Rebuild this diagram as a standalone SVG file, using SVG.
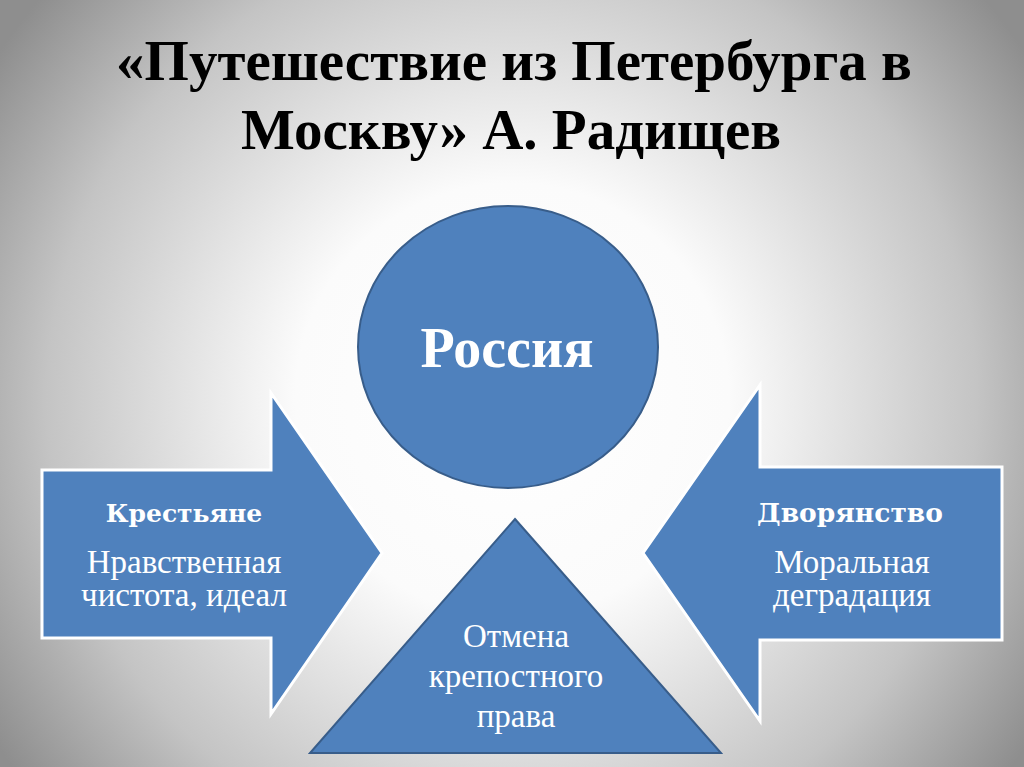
<svg xmlns="http://www.w3.org/2000/svg" width="1024" height="767" viewBox="0 0 1024 767">
<defs>
<radialGradient id="bg" cx="512" cy="400" r="620" gradientUnits="userSpaceOnUse">
<stop offset="0" stop-color="#ffffff"/>
<stop offset="0.35" stop-color="#fbfbfb"/>
<stop offset="0.75" stop-color="#c4c4c4"/>
<stop offset="1" stop-color="#8e8e8e"/>
</radialGradient>
<style>
.title{font-family:"Liberation Serif","Times New Roman",serif;font-weight:bold;font-size:57px;fill:#000;text-anchor:middle}
.arrow{fill:#4f81bd;stroke:#ffffff;stroke-width:3;stroke-linejoin:miter}
.shape{fill:#4f81bd;stroke:#385d8a;stroke-width:2}
.hd{font-family:"DejaVu Serif","Liberation Serif",serif;font-weight:bold;font-size:25px;fill:#fff;text-anchor:middle}
.tx{font-family:"Liberation Serif","Times New Roman",serif;font-size:33px;fill:#fff;text-anchor:middle}
.big{font-family:"Liberation Serif","Times New Roman",serif;font-weight:bold;font-size:56px;fill:#fff;text-anchor:middle}
</style>
</defs>
<rect width="1024" height="767" fill="url(#bg)"/>
<g id="title">
<text class="title" x="514" y="80">«Путешествие из Петербурга в</text>
<text class="title" x="511" y="149">Москву» А. Радищев</text>
</g>
<g id="connectors"></g>
<g id="left-arrow">
<polygon class="arrow" points="42,470 271,470 271,393 382,553 271,714 271,638 42,638"/>
<text class="hd" x="184" y="522">Крестьяне</text>
<text class="tx" x="184" y="573">Нравственная</text>
<text class="tx" x="184" y="606">чистота, идеал</text>
</g>
<g id="right-arrow">
<polygon class="arrow" points="1002,467 760,467 760,385 643,553 760,721 760,640 1002,640"/>
<text class="hd" x="850" y="522" style="font-size:26.5px">Дворянство</text>
<text class="tx" x="852" y="573">Моральная</text>
<text class="tx" x="852" y="606">деградация</text>
</g>
<g id="russia">
<ellipse class="shape" cx="508" cy="347" rx="150" ry="141"/>
<text class="big" x="507" y="367">Россия</text>
</g>
<g id="triangle">
<polygon class="shape" points="515,519 721,753 310,753"/>
<text class="tx" x="516" y="647">Отмена</text>
<text class="tx" x="516" y="687">крепостного</text>
<text class="tx" x="516" y="727">права</text>
</g>
</svg>
